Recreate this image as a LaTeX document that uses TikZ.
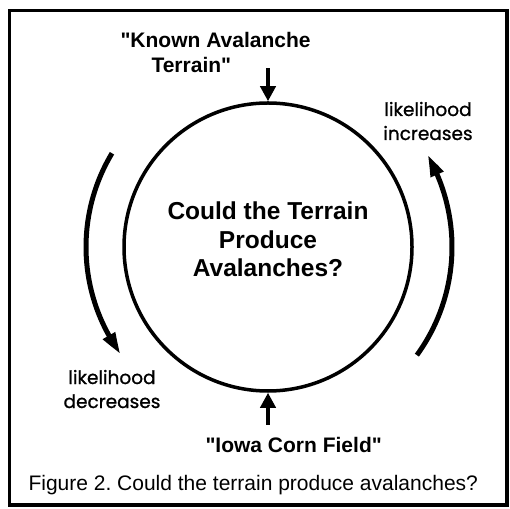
\documentclass[tikz,border=0pt]{standalone}
\usepackage{fontspec}
\setmainfont{Liberation Sans}
\newfontfamily\handfont{Poppins}[FakeBold=1]
\usetikzlibrary{arrows.meta,bending}

\begin{document}
\begin{tikzpicture}[x=1pt,y=1pt,
    bigarrow/.style={line width=4pt,-{Triangle[width=15pt,length=15pt]}},
    curvearrow/.style={line width=5pt,-{Triangle[width=13pt,length=22pt,bend]}}]

      \useasboundingbox (0,0) rectangle (510,508);
      \draw[line width=3.5pt] (9.5,497.5) rectangle (507,3);

      \node (terrain) [circle,draw,line width=3.5pt,minimum size=288pt,inner sep=0pt] at (268,261) {};
      \node (question) [align=center,font=\bfseries\fontsize{24.5}{28.5}\selectfont] at (268,268.5)
        {Could the Terrain\\Produce\\Avalanches?};

      \coordinate (topstart) at ([yshift=33pt]terrain.north);
      \coordinate (botstart) at ([yshift=-32pt]terrain.south);
      \draw[bigarrow] (topstart) -- (terrain.north);
      \draw[bigarrow] (botstart) -- (terrain.south);

      \draw[curvearrow] ([shift={(-36:184pt)}]terrain.center) arc[start angle=-36,end angle=30,radius=184pt];
      \draw[curvearrow] ([shift={(149:182pt)}]terrain.center) arc[start angle=149,end angle=216,radius=182pt];

      % base of a two-line node is its last line
      \begin{scope}[every node/.style={font=\bfseries\fontsize{21}{25}\selectfont,align=left}]
        \node (known) [anchor=base west] at (117,435)
          {\textquotedbl Known Avalanche\\\hspace*{31pt}Terrain\textquotedbl};
        \node (iowa)  [anchor=base west] at (202,56)  {\textquotedbl Iowa Corn Field\textquotedbl};
      \end{scope}

      \begin{scope}[every node/.style={font=\handfont\fontsize{18.5}{24}\selectfont,align=center}]
        \node (up)   [anchor=base] at (428,368) {likelihood\\increases};
        \node (down) [anchor=base] at (112,100) {likelihood\\decreases};
      \end{scope}

      \node (caption) [anchor=base west,font=\fontsize{21}{25}\selectfont] at (25,18)
        {Figure 2.\ Could the terrain produce avalanches?};

    \end{tikzpicture}
\end{document}
